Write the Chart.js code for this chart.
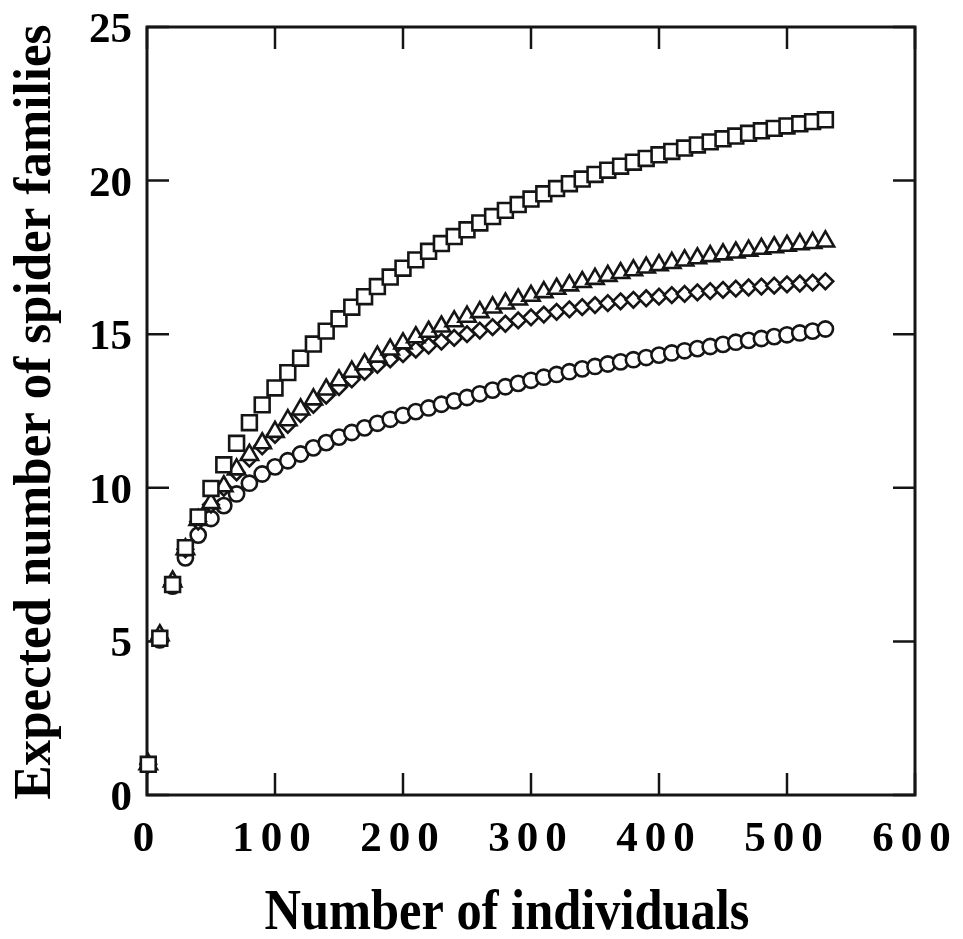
<!DOCTYPE html>
<html>
<head>
<meta charset="utf-8">
<script src="https://cdn.jsdelivr.net/npm/chart.js@4.4.0/dist/chart.umd.min.js"></script>
<style>
  html, body { margin: 0; padding: 0; background: #fff; }
</style>
</head>
<body>
<canvas id="rarefaction" width="963" height="939"></canvas>
<script>
// sample sizes (number of individuals) for the rarefaction curves
const individuals = [1, 10, 20, 30, 40, 50, 60, 70, 80, 90, 100, 110, 120, 130, 140, 150, 160, 170, 180, 190,
  200, 210, 220, 230, 240, 250, 260, 270, 280, 290, 300, 310, 320, 330, 340, 350, 360, 370, 380, 390,
  400, 410, 420, 430, 440, 450, 460, 470, 480, 490, 500, 510, 520, 530];

// expected number of families, one list per marker
const squareFamilies = [1.0, 5.1, 6.85, 8.05, 9.05, 9.98, 10.75, 11.45, 12.12, 12.7, 13.25, 13.75, 14.22, 14.68,
  15.1, 15.5, 15.88, 16.22, 16.55, 16.86, 17.15, 17.42, 17.7, 17.95, 18.18, 18.4, 18.62, 18.83, 19.03, 19.22,
  19.4, 19.57, 19.74, 19.9, 20.05, 20.2, 20.34, 20.47, 20.6, 20.72, 20.84, 20.95, 21.06, 21.16, 21.26, 21.36,
  21.45, 21.54, 21.62, 21.7, 21.78, 21.85, 21.92, 21.98];
const triangleFamilies = [1.0, 5.2, 6.95, 8.0, 8.95, 9.5, 10.05, 10.6, 11.07, 11.45, 11.82, 12.2, 12.55, 12.88,
  13.2, 13.5, 13.78, 14.02, 14.27, 14.5, 14.7, 14.9, 15.08, 15.25, 15.42, 15.57, 15.72, 15.87, 16.0, 16.13,
  16.25, 16.37, 16.48, 16.59, 16.7, 16.8, 16.9, 16.99, 17.08, 17.17, 17.25, 17.32, 17.4, 17.47, 17.54, 17.6,
  17.66, 17.72, 17.78, 17.83, 17.88, 17.93, 17.97, 18.02];
const diamondFamilies = [1.0, 5.1, 6.85, 8.0, 8.9, 9.45, 10.0, 10.5, 10.95, 11.35, 11.72, 12.05, 12.4, 12.7,
  13.0, 13.28, 13.53, 13.77, 14.0, 14.18, 14.35, 14.5, 14.63, 14.76, 14.88, 15.0, 15.12, 15.23, 15.34, 15.45,
  15.55, 15.64, 15.73, 15.81, 15.88, 15.95, 16.01, 16.07, 16.12, 16.17, 16.22, 16.27, 16.31, 16.36, 16.4, 16.44,
  16.48, 16.52, 16.55, 16.58, 16.62, 16.65, 16.68, 16.72];
const circleFamilies = [1.0, 5.05, 6.8, 7.72, 8.46, 9.0, 9.42, 9.8, 10.15, 10.45, 10.68, 10.88, 11.1, 11.3,
  11.47, 11.65, 11.8, 11.95, 12.1, 12.23, 12.36, 12.48, 12.6, 12.72, 12.83, 12.94, 13.06, 13.18, 13.29, 13.4,
  13.5, 13.6, 13.69, 13.78, 13.87, 13.95, 14.03, 14.1, 14.17, 14.24, 14.32, 14.39, 14.46, 14.53, 14.6, 14.67,
  14.74, 14.8, 14.86, 14.92, 14.98, 15.04, 15.1, 15.17];

// axis ticks
const xTickValues = [0, 100, 200, 300, 400, 500, 600];
const yTickValues = [0, 5, 10, 15, 20, 25];

const xTitle = "Number of individuals";
const yTitle = "Expected number of spider families";

const INK = "#151515";
const SERIF = '"Liberation Serif", "Times New Roman", serif';

function points(values) {
  return individuals.map((n, i) => ({ x: n, y: values[i] }));
}

function series(values, style, radius) {
  return {
    data: points(values),
    pointStyle: style,
    pointRadius: radius,
    pointHoverRadius: radius,
    pointBorderWidth: 2.6,
    pointBorderColor: INK,
    pointBackgroundColor: "#fff",
    showLine: false,
    clip: false,
  };
}

// inward ticks on all four sides, frame, tick labels and titles
const framePlugin = {
  id: "framePlugin",
  beforeDatasetsDraw(chart) {
    const { ctx, chartArea: a, scales: { x, y } } = chart;
    const len = 22;
    ctx.save();
    ctx.strokeStyle = INK;
    ctx.lineWidth = 2.5;
    ctx.beginPath();
    xTickValues.forEach((v) => {
      const px = x.getPixelForValue(v);
      ctx.moveTo(px, a.bottom);
      ctx.lineTo(px, a.bottom - len);
      ctx.moveTo(px, a.top);
      ctx.lineTo(px, a.top + len);
    });
    yTickValues.forEach((v) => {
      const py = y.getPixelForValue(v);
      ctx.moveTo(a.left, py);
      ctx.lineTo(a.left + len, py);
      ctx.moveTo(a.right, py);
      ctx.lineTo(a.right - len, py);
    });
    ctx.stroke();
    ctx.lineWidth = 3;
    ctx.strokeRect(a.left, a.top, a.right - a.left, a.bottom - a.top);
    ctx.restore();
  },
  afterDraw(chart) {
    const { ctx, chartArea: a, scales: { x, y } } = chart;
    ctx.save();
    ctx.fillStyle = "#000";
    ctx.textBaseline = "alphabetic";

    // x tick labels, letter-spaced like the original
    ctx.font = "bold 43px " + SERIF;
    ctx.textAlign = "center";
    ctx.letterSpacing = "7px";
    x.ticks.forEach((t) => {
      ctx.fillText(String(t.value), x.getPixelForValue(t.value), a.bottom + 56);
    });
    ctx.letterSpacing = "0px";

    // y tick labels
    ctx.textAlign = "right";
    y.ticks.forEach((t) => {
      ctx.fillText(String(t.value), a.left - 15, y.getPixelForValue(t.value) + 15);
    });

    // x title
    ctx.textAlign = "center";
    ctx.font = "bold 58px " + SERIF;
    let w = ctx.measureText(xTitle).width;
    ctx.save();
    ctx.translate(507, 929);
    ctx.scale(485 / w, 1);
    ctx.fillText(xTitle, 0, 0);
    ctx.restore();

    // y title
    ctx.font = "bold 53px " + SERIF;
    w = ctx.measureText(yTitle).width;
    ctx.save();
    ctx.translate(50, 412);
    ctx.rotate(-Math.PI / 2);
    ctx.scale(775 / w, 1);
    ctx.fillText(yTitle, 0, 0);
    ctx.restore();

    ctx.restore();
  },
};

new Chart(document.getElementById("rarefaction"), {
  type: "scatter",
  data: {
    datasets: [
      series(squareFamilies, "rect", 10.5),
      series(triangleFamilies, "triangle", 10),
      series(diamondFamilies, "rectRot", 7.8),
      series(circleFamilies, "circle", 7.6),
    ],
  },
  options: {
    responsive: false,
    animation: false,
    devicePixelRatio: 1,
    layout: { padding: { top: 27, right: 48, left: 0, bottom: 0 } },
    plugins: { legend: { display: false }, tooltip: { enabled: false } },
    scales: {
      x: {
        type: "linear",
        min: 0,
        max: 600,
        ticks: { stepSize: 100, display: false },
        grid: { display: false, drawTicks: false },
        border: { display: false },
        afterFit: (s) => { s.height = 144; },
      },
      y: {
        type: "linear",
        min: 0,
        max: 25,
        ticks: { stepSize: 5, display: false },
        grid: { display: false, drawTicks: false },
        border: { display: false },
        afterFit: (s) => { s.width = 147; },
      },
    },
  },
  plugins: [framePlugin],
});
</script>
</body>
</html>
